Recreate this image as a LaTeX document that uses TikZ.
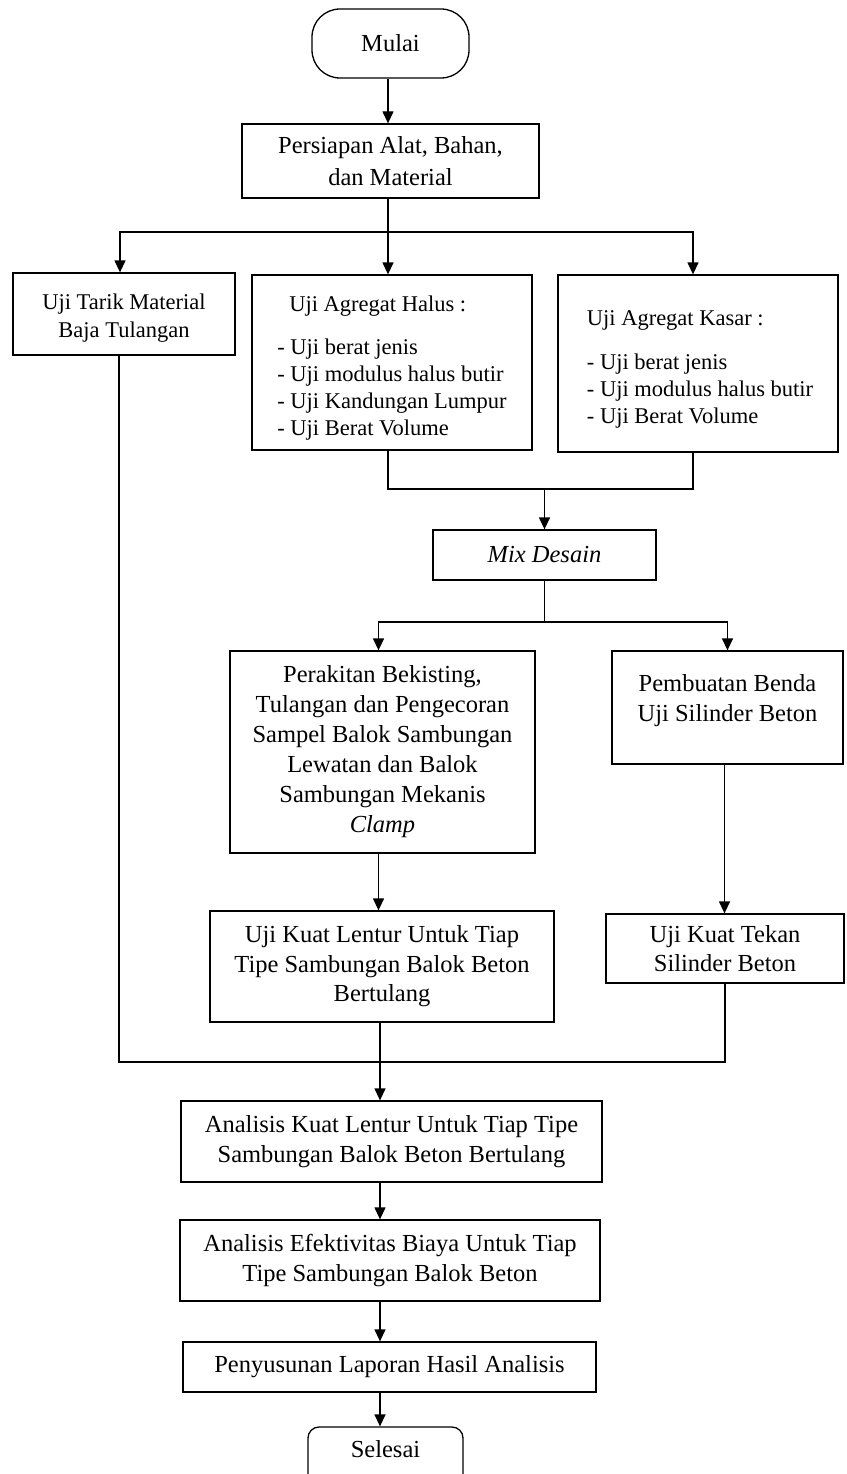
\documentclass[tikz,border=0pt]{standalone}
\usepackage{fontspec}
\setmainfont{Liberation Serif}
\usetikzlibrary{arrows.meta}
\begin{document}
\begin{tikzpicture}[x=1pt,y=-1pt,
  box/.style={draw, line width=1.3pt, align=center, inner sep=0pt,
    font=\fontsize{24.5}{29.5}\selectfont},
  smallfont/.style={font=\fontsize{22.5}{28}\selectfont},
  listfont/.style={align=left, font=\fontsize{22.5}{27}\selectfont},
  term/.style={box, rounded corners=28pt},
  arr/.style={line width=1.3pt, -{Triangle[length=12pt,width=11pt]}},
  conn/.style={line width=1.3pt}]
\useasboundingbox (0,0) rectangle (846,1474);

% nodes
\node[term, minimum width=157pt, minimum height=69pt] (mulai) at (390.5,43.5) {Mulai};
\node[box, minimum width=297pt, minimum height=74pt, font=\fontsize{24.5}{32}\selectfont] (pers) at (390.5,161) {Persiapan Alat, Bahan,\\dan Material};
\node[box, minimum width=222pt, minimum height=82pt,
  label={[align=center, smallfont, yshift=-4pt]center:Uji Tarik Material\\Baja Tulangan}] (tarik) at (124,314) {};
\node[box, minimum width=280pt, minimum height=175pt,
  label={[listfont, yshift=-6pt]center:\hspace*{12pt}Uji Agregat Halus :\\[16pt]- Uji berat jenis\\- Uji modulus halus butir\\- Uji Kandungan Lumpur\\- Uji Berat Volume}] (halus) at (392,362.5) {};
\node[box, minimum width=280pt, minimum height=177pt,
  label={[listfont, yshift=-6pt, xshift=2pt]center:Uji Agregat Kasar :\\[17pt]- Uji berat jenis\\- Uji modulus halus butir\\- Uji Berat Volume}] (kasar) at (698,363.5) {};
\node[box, minimum width=223pt, minimum height=50pt] (mix) at (544.5,555) {\textit{Mix Desain}};
\node[box, minimum width=305pt, minimum height=202pt, font=\fontsize{24.5}{30}\selectfont] (rakit) at (382.5,752)
  {Perakitan Bekisting,\\Tulangan dan Pengecoran\\Sampel Balok Sambungan\\Lewatan dan Balok\\Sambungan Mekanis\\\textit{Clamp}};
\node[box, minimum width=231pt, minimum height=113pt,
  label={[align=center, font=\fontsize{24.5}{30}\selectfont, yshift=7pt]center:Pembuatan Benda\\Uji Silinder Beton}] (pemb) at (727.5,707.5) {};
\node[box, minimum width=344pt, minimum height=111pt] (lentur) at (382,966.5)
  {Uji Kuat Lentur Untuk Tiap\\Tipe Sambungan Balok Beton\\Bertulang};
\node[box, minimum width=238pt, minimum height=69pt] (tekan) at (725,948.5) {Uji Kuat Tekan\\Silinder Beton};
\node[box, minimum width=421pt, minimum height=81pt] (anal) at (391.5,1141.5)
  {Analisis Kuat Lentur Untuk Tiap Tipe\\Sambungan Balok Beton Bertulang};
\node[box, minimum width=420pt, minimum height=81pt] (efek) at (390,1260.5)
  {Analisis Efektivitas Biaya Untuk Tiap\\Tipe Sambungan Balok Beton};
\node[box, minimum width=413pt, minimum height=50pt] (peny) at (389.5,1367) {Penyusunan Laporan Hasil Analisis};
\node[box, rounded corners=11pt, minimum width=155pt, minimum height=72pt,
  label={[font=\fontsize{24.5}{29.5}\selectfont, yshift=14pt]center:Selesai}] (selesai) at (385.5,1463) {};

% coordinates
\coordinate (br) at (388,232);
\coordinate (j1) at (544.5,489);
\coordinate (j2) at (544.5,622);
\coordinate (j3) at (380,1062);

% connectors
\draw[arr] (mulai.south -| br) -- (pers.north -| br);
\draw[conn] (pers.south -| br) -- (br);
\draw[arr] (br) -| ([xshift=-4pt]tarik.north);
\draw[arr] (br) -- (br |- halus.north);
\draw[arr] (br) -| ([xshift=-5pt]kasar.north);
\draw[conn] ([xshift=-4pt]halus.south) |- (j1);
\draw[conn] ([xshift=-5pt]kasar.south) |- (j1);
\draw[arr] (j1) -- (mix.north);
\draw[conn] (mix.south) -- (j2);
\draw[arr] (j2) -| ([xshift=-4pt]rakit.north);
\draw[arr] (j2) -| (pemb.north);
\draw[arr] ([xshift=-4pt]rakit.south) -- ([xshift=-4pt]rakit.south |- lentur.north);
\draw[arr] ([xshift=-3pt]pemb.south) -- ([xshift=-3pt]pemb.south |- tekan.north);
\draw[conn] ([xshift=-5pt]tarik.south) |- (j3);
\draw[conn] (tekan.south) |- (j3);
\draw[arr] (lentur.south -| j3) -- (anal.north -| j3);
\draw[arr] (anal.south -| j3) -- (efek.north -| j3);
\draw[arr] (efek.south -| j3) -- (peny.north -| j3);
\draw[arr] (peny.south -| j3) -- (selesai.north -| j3);
\end{tikzpicture}
\end{document}
